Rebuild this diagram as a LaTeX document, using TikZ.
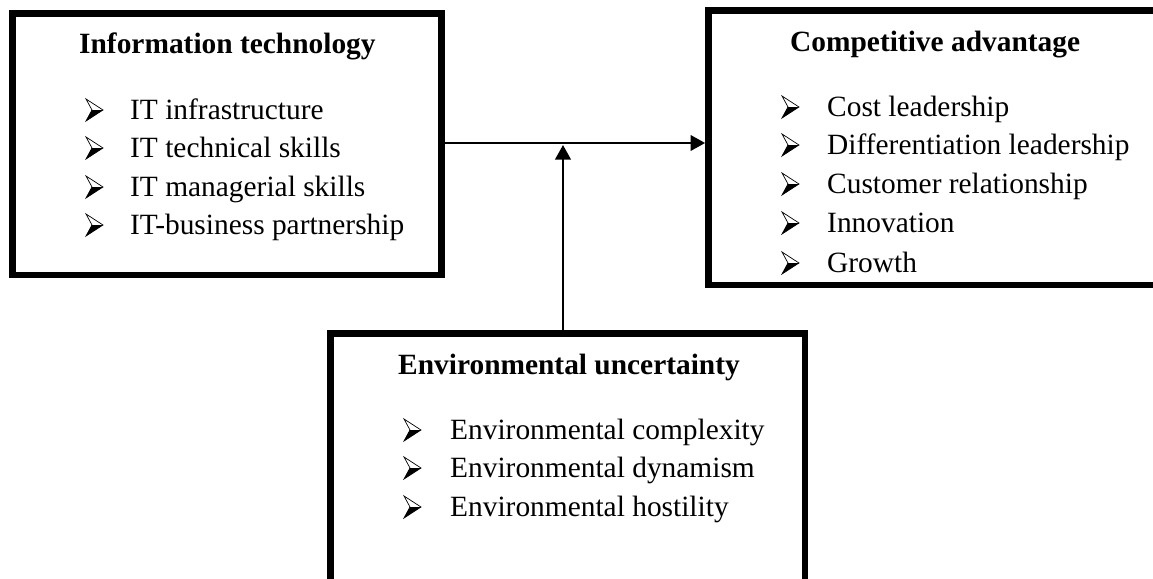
\documentclass[tikz,border=0pt]{standalone}
\usepackage{fontspec}
\setmainfont{Liberation Serif}
\usetikzlibrary{arrows.meta}
\tikzset{
  boxframe/.style={draw=black, line width=6.5pt, rectangle, inner sep=0pt, fill=none},
  titletext/.style={anchor=base west, inner sep=0pt, font=\fontsize{29.4}{35}\selectfont\bfseries},
  itemtext/.style={anchor=base west, inner sep=0pt, font=\fontsize{29.4}{35}\selectfont},
  conn/.style={draw=black, line width=2.2pt, -{Triangle[length=14.5pt,width=15.5pt]}},
  bulletmark/.pic={
    \draw[line width=0.7pt, line join=miter] (1,-20) -- (18,-9) -- (1,2) -- (7,-9) -- cycle;
    \fill (7,-9) -- (18,-9) -- (1,2) -- cycle;
  }
}
\begin{document}
\begin{tikzpicture}[x=1pt,y=-1pt]
\useasboundingbox (0,0) rectangle (1153,578);
\clip (0,0) rectangle (1153,578);
\fill[white] (0,0) rectangle (1153,578);
% boxes
\node[boxframe, minimum width=429.2pt, minimum height=261.7pt] (itbox) at (227.1,144.2) {};
\node[boxframe, minimum width=451.7pt, minimum height=274.3pt] (cabox) at (934.2,147.85) {};
\node[boxframe, minimum width=474.3pt, minimum height=256.7pt] (eubox) at (567.85,461.65) {};
% left box text
\node[titletext] (it0) at (79,54) {Information technology};
\pic at (85,119) {bulletmark};
\node[itemtext] (it1) at (130,119) {IT infrastructure};
\pic at (85,157) {bulletmark};
\node[itemtext] (it2) at (130,157) {IT technical skills};
\pic at (85,196) {bulletmark};
\node[itemtext] (it3) at (130,196) {IT managerial skills};
\pic at (85,234) {bulletmark};
\node[itemtext] (it4) at (130,234) {IT-business partnership};
% right box text
\node[titletext] (ca0) at (790,52) {Competitive advantage};
\pic at (781,116) {bulletmark};
\node[itemtext] (ca1) at (827,116) {Cost leadership};
\pic at (781,154) {bulletmark};
\node[itemtext] (ca2) at (827,154) {Differentiation leadership};
\pic at (781,193) {bulletmark};
\node[itemtext] (ca3) at (827,193) {Customer relationship};
\pic at (781,232) {bulletmark};
\node[itemtext] (ca4) at (827,232) {Innovation};
\pic at (781,272) {bulletmark};
\node[itemtext] (ca5) at (827,272) {Growth};
% bottom box text
\node[titletext] (eu0) at (398,374) {Environmental uncertainty};
\pic at (403,439) {bulletmark};
\node[itemtext] (eu1) at (450,439) {Environmental complexity};
\pic at (403,477) {bulletmark};
\node[itemtext] (eu2) at (450,477) {Environmental dynamism};
\pic at (403,516) {bulletmark};
\node[itemtext] (eu3) at (450,516) {Environmental hostility};
% connectors
\coordinate (j) at (563,143);
\coordinate (jt) at (563,145);
\draw[conn] (itbox.east |- j) -- (cabox.west |- j);
\draw[conn] (eubox.north -| jt) -- (jt);
\end{tikzpicture}
\end{document}
